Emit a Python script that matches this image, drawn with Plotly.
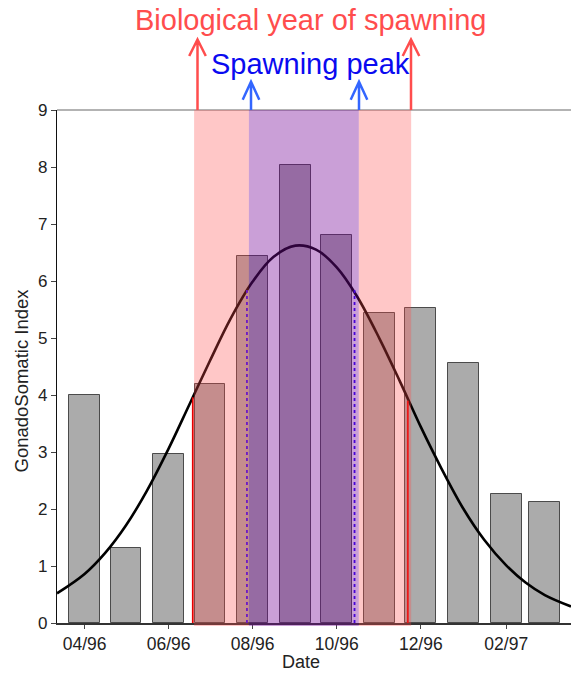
import plotly.graph_objects as go

# ---------------- data ----------------
months = ["1996-04-01", "1996-05-01", "1996-06-01", "1996-07-01", "1996-08-01", "1996-09-01",
          "1996-10-01", "1996-11-01", "1996-12-01", "1997-01-01", "1997-02-01", "1997-03-01"]
gsi = [4.00, 1.32, 2.97, 4.19, 6.44, 8.04, 6.81, 5.43, 5.53, 4.56, 2.27, 2.12]

curve_dates = ["1996-03-12", "1996-04-01", "1996-04-16", "1996-05-01", "1996-05-16", "1996-06-01",
               "1996-06-16", "1996-07-01", "1996-07-16", "1996-08-01", "1996-08-16", "1996-09-01",
               "1996-09-16", "1996-10-01", "1996-10-16", "1996-11-01", "1996-11-16", "1996-12-01",
               "1996-12-16", "1997-01-01", "1997-01-16", "1997-02-01", "1997-02-15", "1997-03-01",
               "1997-03-20"]
curve_vals = [0.52, 0.86, 1.23, 1.71, 2.31, 3.06, 3.83, 4.60, 5.34, 5.99, 6.42, 6.62,
              6.55, 6.24, 5.72, 4.99, 4.23, 3.44, 2.71, 2.00, 1.46, 1.01, 0.71, 0.49, 0.29]

spawning_year = ["1996-06-19 12:00", "1996-11-24 00:00"]
spawning_peak = ["1996-07-29 06:00", "1996-10-17 00:00"]
year_lines_x = ["1996-06-18 13:00", "1996-11-21 14:00"]
year_lines_top = [3.96, 3.90]
peak_lines_x = ["1996-07-27 20:00", "1996-10-13 22:00"]
peak_lines_top = [5.84, 5.84]

tick_vals = ["1996-04-01", "1996-06-01", "1996-08-01", "1996-10-01", "1996-12-01", "1997-02-01"]
tick_text = ["04/96", "06/96", "08/96", "10/96", "12/96", "02/97"]
x_range = ["1996-03-12", "1997-03-20"]

title_year = "Biological year of spawning"
title_peak = "Spawning peak"
x_title = "Date"
y_title = "GonadoSomatic Index"

# ---------------- figure ----------------
DAY_MS = 86400000
FONT = "Arial, Liberation Sans, sans-serif"

fig = go.Figure()

fig.add_trace(go.Bar(
    x=months, y=gsi, width=22.3 * DAY_MS,
    marker=dict(color="#ABABAB", line=dict(color="rgba(40,40,40,0.8)", width=1)),
    showlegend=False, hoverinfo="skip"))

fig.add_trace(go.Scatter(
    x=curve_dates, y=curve_vals, mode="lines",
    line=dict(color="black", width=2.6, shape="spline", smoothing=1.0),
    showlegend=False, hoverinfo="skip"))

for xv, top in zip(year_lines_x, year_lines_top):
    fig.add_trace(go.Scatter(x=[xv, xv], y=[0, top], mode="lines",
                             line=dict(color="#E60000", width=1.8),
                             showlegend=False, hoverinfo="skip"))
for xv, top in zip(peak_lines_x, peak_lines_top):
    fig.add_trace(go.Scatter(x=[xv, xv], y=[0, top], mode="lines",
                             line=dict(color="#2A00FF", width=1.8, dash="dot"),
                             showlegend=False, hoverinfo="skip"))

# shaded periods (drawn above the data, translucent)
pink = "rgba(255,75,75,0.31)"
purple = "rgba(118,8,151,0.39)"
fig.add_shape(type="rect", xref="x", yref="paper", x0=spawning_year[0], x1=spawning_peak[0],
              y0=-0.006, y1=1, fillcolor=pink, line=dict(width=0), layer="above")
fig.add_shape(type="rect", xref="x", yref="paper", x0=spawning_peak[1], x1=spawning_year[1],
              y0=-0.006, y1=1, fillcolor=pink, line=dict(width=0), layer="above")
fig.add_shape(type="rect", xref="x", yref="paper", x0=spawning_peak[0], x1=spawning_peak[1],
              y0=-0.006, y1=1, fillcolor=purple, line=dict(width=0), layer="above")

# top frame line
fig.add_shape(type="line", xref="paper", yref="paper", x0=0, x1=1, y0=1, y1=1,
              line=dict(color="#9A9A9A", width=1.5), layer="below")

# arrows above the plot (paper coordinates)
L, W, T, H = 57.0, 514.0, 110.0, 513.0
def px(xp):
    return (xp - L) / W
def py(yp):
    return (T + H - yp) / H

def arrow(xpix, tip, arm, color):
    x = px(xpix)
    d = 8.3 / W
    path = (f"M {x},{py(110)} L {x},{py(tip)} "
            f"M {x - d},{py(tip + arm)} L {x},{py(tip)} L {x + d},{py(tip + arm)}")
    fig.add_shape(type="path", xref="paper", yref="paper", path=path,
                  line=dict(color=color, width=2.5), layer="above")

arrow(197.5, 39.5, 16.5, "#FF4D4D")
arrow(411.0, 39.5, 16.5, "#FF4D4D")
arrow(251.0, 81.7, 18.0, "#3366FF")
arrow(359.0, 81.7, 18.0, "#3366FF")

fig.add_annotation(text=title_year, xref="paper", yref="paper", x=px(310), y=py(20),
                   xanchor="center", yanchor="middle", showarrow=False,
                   font=dict(family=FONT, size=29, color="#FF4D4D"))
fig.add_annotation(text=title_peak, xref="paper", yref="paper", x=px(310), y=py(64),
                   xanchor="center", yanchor="middle", showarrow=False,
                   font=dict(family=FONT, size=29, color="#0A0AF0"))
fig.add_annotation(text=x_title, xref="paper", yref="paper", x=px(301), y=py(661.5),
                   xanchor="center", yanchor="middle", showarrow=False,
                   font=dict(family=FONT, size=18, color="#222222"))
fig.add_annotation(text=y_title, xref="paper", yref="paper", x=px(20.5), y=py(381),
                   xanchor="center", yanchor="middle", showarrow=False, textangle=-90,
                   font=dict(family=FONT, size=18.5, color="#222222"))

fig.update_layout(
    width=571, height=673,
    margin=dict(l=57, r=0, t=110, b=50, pad=0),
    paper_bgcolor="white", plot_bgcolor="white",
    bargap=0, showlegend=False,
    font=dict(family=FONT, size=17, color="#222222"),
    xaxis=dict(type="date", range=x_range, tickvals=tick_vals, ticktext=tick_text,
               ticks="outside", ticklen=4, tickcolor="#444", showgrid=False, zeroline=False,
               showline=True, linecolor="#333", linewidth=1.5,
               tickfont=dict(family=FONT, size=17.5, color="#222222")),
    yaxis=dict(range=[0, 9], dtick=1, ticks="outside", ticklen=5, tickcolor="#444",
               showgrid=False, zeroline=False, showline=True, linecolor="#111", linewidth=1.2,
               tickfont=dict(family=FONT, size=17, color="#222222")),
)

fig.write_html("out.html")
